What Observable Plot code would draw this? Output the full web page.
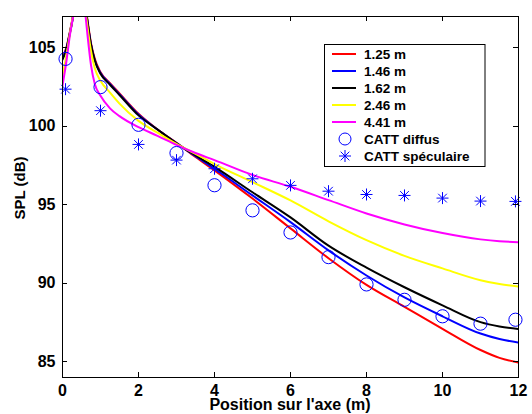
<!DOCTYPE html>
<html><head><meta charset="utf-8">
<script src="https://cdn.jsdelivr.net/npm/d3@7"></script>
<script src="https://cdn.jsdelivr.net/npm/@observablehq/plot@0.6"></script>
<style>body{margin:0;background:#fff;}</style>
</head><body><div id="chart"></div>
<script>
// ---- data ----
const xTicks = [0, 2, 4, 6, 8, 10, 12];
const yTicks = [85, 90, 95, 100, 105];
const seriesNames = ["1.25 m", "1.46 m", "1.62 m", "2.46 m", "4.41 m"];
const seriesColors = ["#ff0000", "#0000ff", "#000000", "#ffff00", "#ff00ff"];

// left branch (before the source)
const leftX = [0, 0.1, 0.2, 0.25, 0.3, 0.35];
const leftRed     = [104.4, 105.0, 106.1, 106.7, 107.5, 108.6];
const leftBlue    = [104.35, 104.95, 106.05, 106.65, 107.45, 108.6];
const leftBlack   = [104.25, 104.9, 106.0, 106.6, 107.4, 108.5];
const leftYellow  = [103.2, 104.5, 106.0, 106.7, 107.4, 108.5];
const leftMagenta = [102.6, 104.1, 105.9, 106.6, 107.3, 108.4];

// right branch (after the source)
const rightX = [0.55, 0.6, 0.65, 0.75, 0.85, 1, 1.25, 1.5, 2, 2.5, 3, 3.5, 4, 5, 6, 7, 8, 9, 10, 11, 11.5, 12];
const rightRed     = [109, 107.8, 106.9, 105.3, 104.3, 103.45, 102.75, 102.1, 100.8, 99.8, 98.95, 98.05, 97.2, 95.4, 93.5, 91.6, 89.9, 88.5, 87.1, 85.75, 85.25, 84.95];
const rightBlue    = [109, 107.7, 106.8, 105.2, 104.2, 103.4, 102.7, 102.05, 100.75, 99.8, 98.93, 98.1, 97.3, 95.6, 93.9, 92.1, 90.5, 89.1, 87.9, 86.8, 86.45, 86.23];
const rightBlack   = [109, 107.7, 106.8, 105.2, 104.2, 103.35, 102.65, 102.0, 100.7, 99.8, 98.92, 98.15, 97.42, 95.8, 94.2, 92.4, 91.0, 89.75, 88.6, 87.53, 87.25, 87.08];
const rightYellow  = [108.8, 107.5, 106.5, 104.8, 103.7, 102.9, 102.15, 101.45, 100.35, 99.6, 98.88, 98.25, 97.6, 96.45, 95.28, 93.95, 92.75, 91.75, 90.95, 90.2, 89.95, 89.8];
const rightMagenta = [108.5, 107.2, 106.0, 103.9, 102.7, 101.95, 101.15, 100.65, 99.95, 99.4, 98.82, 98.3, 97.85, 96.9, 96.15, 95.3, 94.45, 93.75, 93.2, 92.8, 92.68, 92.62];

// CATT simulations
const cattX = [0.08, 1, 2, 3, 4, 5, 6, 7, 8, 9, 10, 11, 11.92];
const cattDiffus    = [104.3, 102.5, 100.1, 98.3, 96.25, 94.65, 93.24, 91.67, 89.93, 88.95, 87.9, 87.43, 87.68];
const cattSpecular  = [102.37, 101.0, 98.85, 97.85, 97.3, 96.66, 96.24, 95.87, 95.66, 95.6, 95.43, 95.24, 95.22];

// ---- build tables ----
const leftSeries = [leftRed, leftBlue, leftBlack, leftYellow, leftMagenta];
const rightSeries = [rightRed, rightBlue, rightBlack, rightYellow, rightMagenta];
const curveRows = seriesNames.map((name, i) => [
  ...leftX.map((x, j) => ({series: name, branch: "L", x, y: leftSeries[i][j]})),
  ...rightX.map((x, j) => ({series: name, branch: "R", x, y: rightSeries[i][j]}))
]);
const diffusRows = cattX.map((x, i) => ({x, y: cattDiffus[i]}));
const specRows = cattX.map((x, i) => ({x, y: cattSpecular[i]}));

const asterisk = {
  draw(context, size) {
    const r = Math.sqrt(size / Math.PI);
    const d = r * 0.72;
    context.moveTo(-r, 0); context.lineTo(r, 0);
    context.moveTo(0, -r); context.lineTo(0, r);
    context.moveTo(-d, -d); context.lineTo(d, d);
    context.moveTo(-d, d); context.lineTo(d, -d);
  }
};

const FONT = "'Liberation Sans', Arial, Helvetica, sans-serif";

const chart = Plot.plot({
  width: 532,
  height: 414,
  marginLeft: 62,
  marginRight: 14,
  marginTop: 16,
  marginBottom: 37,
  style: {fontFamily: FONT, fontSize: "16px", fontWeight: "bold", background: "#fff", color: "#000"},
  x: {domain: [0, 12], ticks: xTicks, tickSize: 0, tickPadding: 7, label: null},
  y: {domain: [84, 107], ticks: yTicks, tickSize: 0, tickPadding: 7, label: null},
  color: {domain: seriesNames, range: seriesColors},
  marks: [
    ...curveRows.map(rows => Plot.line(rows, {x: "x", y: "y", z: "branch", stroke: "series", strokeWidth: 2, curve: "monotone-x", clip: true})),
    Plot.dot(diffusRows, {x: "x", y: "y", r: 6.6, stroke: "#0000ff", fill: "none", strokeWidth: 1}),
    Plot.dot(specRows, {x: "x", y: "y", r: 6, symbol: asterisk, stroke: "#0000ff", fill: "none", strokeWidth: 1}),
    Plot.frame({stroke: "#000", strokeWidth: 1})
  ]
});

// inward ticks on all four sides (MATLAB style), placed with Plot's scales
const sx = chart.scale("x"), sy = chart.scale("y");
const svg = d3.select(chart);
const x0 = sx.apply(0), x1 = sx.apply(12), y0 = sy.apply(84), y1 = sy.apply(107);
const tg = svg.append("g").attr("stroke", "#000").attr("stroke-width", 1);
xTicks.forEach(t => {
  const px = Math.round(sx.apply(t)) + 0.5;
  tg.append("line").attr("x1", px).attr("x2", px).attr("y1", y0).attr("y2", y0 - 5);
  tg.append("line").attr("x1", px).attr("x2", px).attr("y1", y1).attr("y2", y1 + 5);
});
yTicks.forEach(t => {
  const py = Math.round(sy.apply(t)) + 0.5;
  tg.append("line").attr("x1", x0).attr("x2", x0 + 5).attr("y1", py).attr("y2", py);
  tg.append("line").attr("x1", x1).attr("x2", x1 - 5).attr("y1", py).attr("y2", py);
});

// axis titles
svg.append("text").attr("x", (x0 + x1) / 2).attr("y", 410).attr("text-anchor", "middle")
  .attr("font-family", FONT).attr("font-size", 16).attr("font-weight", "bold").text("Position sur l'axe (m)");
const yTitleG = svg.append("g").attr("transform", "translate(25,188) rotate(-90)");
const yTitle = yTitleG.append("text").attr("x", 0).attr("y", 0).attr("text-anchor", "middle")
  .attr("font-family", FONT).attr("font-size", 15).attr("font-weight", "bold").text("SPL (dB)");

// legend
const lg = svg.append("g").attr("font-family", FONT).attr("font-size", 13.5).attr("font-weight", "bold");
lg.append("rect").attr("x", 324.5).attr("y", 44.5).attr("width", 160.5).attr("height", 122)
  .attr("fill", "#fff").attr("stroke", "#000").attr("stroke-width", 1);
const legendLabels = [...seriesNames, "CATT diffus", "CATT spéculaire"];
legendLabels.forEach((lab, i) => {
  const ry = 54 + i * 17;
  if (i < seriesNames.length) {
    lg.append("line").attr("x1", 332).attr("x2", 356).attr("y1", ry).attr("y2", ry)
      .attr("stroke", seriesColors[i]).attr("stroke-width", 2);
  } else if (i === seriesNames.length) {
    lg.append("circle").attr("cx", 345).attr("cy", ry).attr("r", 6).attr("fill", "none").attr("stroke", "#0000ff");
  } else {
    const p = d3.path(); asterisk.draw(p, 36 * Math.PI);
    lg.append("path").attr("d", p.toString()).attr("transform", `translate(345,${ry})`).attr("fill", "none").attr("stroke", "#0000ff");
  }
  lg.append("text").attr("x", 364).attr("y", ry).attr("dy", "0.35em").attr("text-anchor", "start").text(lab);
});

document.getElementById("chart").appendChild(chart);

// make sure the rotated y title is centred on y = 188
const bb = yTitle.node().getBBox();
const c = bb.x + bb.width / 2;
if (Math.abs(c) > 0.5) yTitle.attr("x", -c);
</script></body></html>
